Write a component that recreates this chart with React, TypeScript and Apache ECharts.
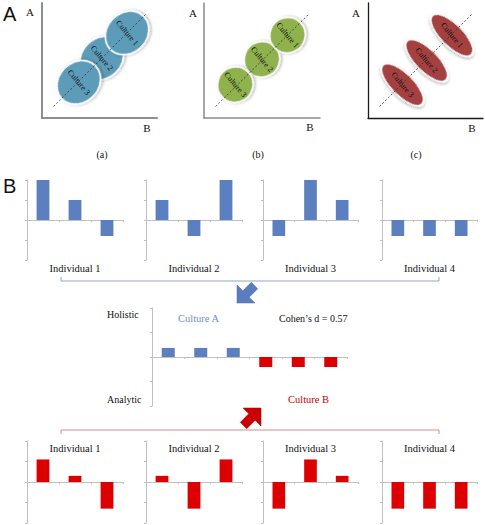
import React, { useEffect, useRef } from 'react';
import * as echarts from 'echarts';

// ---------- Part A data ----------
const cultureLabels = ['Culture 1', 'Culture 2', 'Culture 3'];
const panelAX = [7.4, 5.2, 3.2];
const panelAY = [7.4, 5.2, 3.1];
const panelBX = [7.2, 5.0, 2.7];
const panelBY = [7.2, 5.1, 2.9];
const panelCX = [7.3, 5.1, 3.0];
const panelCY = [7.2, 5.0, 2.9];
const diagonal = [[1, 1], [9, 9]];
const panelCaptions = ['(a)', '(b)', '(c)'];

// ---------- Part B data ----------
const itemCats = ['1', '2', '3'];
const individualNames = ['Individual 1', 'Individual 2', 'Individual 3', 'Individual 4'];
const cultureAInd1 = [2, 1, -0.8];
const cultureAInd2 = [1, -0.8, 2];
const cultureAInd3 = [-0.8, 2, 1];
const cultureAInd4 = [-0.8, -0.8, -0.8];
const cultureBInd1 = [1.1, 0.3, -1.3];
const cultureBInd2 = [0.3, -1.3, 1.1];
const cultureBInd3 = [-1.3, 1.1, 0.3];
const cultureBInd4 = [-1.3, -1.3, -1.3];
const meanCats = ['A1', 'A2', 'A3', 'B1', 'B2', 'B3'];
const meanValues = [0.37, 0.37, 0.37, -0.41, -0.41, -0.41];
const meanCulture = ['A', 'A', 'A', 'B', 'B', 'B'];
const yTicks = [-2, 2, 1]; // min, max, interval

const BLUE = '#5b7fbf';
const RED = '#dd0000';
const SERIF = 'Liberation Serif';
const SANS = 'Liberation Sans';
const AXIS_GRAY = '#c0c0c0';

export default function App() {
  const ref = useRef<HTMLDivElement>(null);

  useEffect(() => {
    if (!ref.current) return;
    const chart = echarts.init(ref.current, undefined, { renderer: 'svg' });

    const grids: any[] = [];
    const xAxes: any[] = [];
    const yAxes: any[] = [];
    const series: any[] = [];
    const graphics: any[] = [];

    // ---- Part A panels ----
    const aGrids = [
      { left: 42, top: 3, width: 115, height: 115 },
      { left: 204, top: 3, width: 116, height: 115 },
      { left: 368, top: 3, width: 115, height: 115 },
    ];
    const aAxisStyle = [
      { color: '#8e8e8e', width: 2 },
      { color: '#8a8a8a', width: 1.5 },
      { color: '#1a1a1a', width: 1.3 },
    ];
    const aX = [panelAX, panelBX, panelCX];
    const aY = [panelAY, panelBY, panelCY];
    const aColor = ['#5d9cb9', '#8fb24e', '#a4403f'];
    const aSize: any[] = [[47, 40], [36, 35], [56, 22]];
    const aRot = [45, 45, -45];
    const drawOrder = [1, 0, 2];

    aGrids.forEach((g, i) => {
      grids.push(g);
      xAxes.push({
        gridIndex: i, type: 'value', min: 0, max: 10,
        axisLine: { show: true, onZero: false, lineStyle: aAxisStyle[i] },
        axisTick: { show: false }, axisLabel: { show: false }, splitLine: { show: false },
      });
      yAxes.push({
        gridIndex: i, type: 'value', min: 0, max: 10,
        axisLine: { show: true, onZero: false, lineStyle: aAxisStyle[i] },
        axisTick: { show: false }, axisLabel: { show: false }, splitLine: { show: false },
      });
      series.push({
        type: 'scatter', xAxisIndex: i, yAxisIndex: i,
        symbol: 'circle', symbolSize: aSize[i], symbolRotate: aRot[i],
        data: drawOrder.map((k) => ({ name: cultureLabels[k], value: [aX[i][k], aY[i][k]] })),
        itemStyle: {
          color: aColor[i], borderColor: '#ffffff', borderWidth: 1.5, opacity: 1,
          shadowBlur: 3, shadowColor: 'rgba(0,0,0,0.35)', shadowOffsetX: 1, shadowOffsetY: 1,
        },
        label: {
          show: true, position: 'inside', formatter: '{b}', rotate: -50,
          fontSize: 8, fontFamily: SERIF, color: '#111',
        },
        z: 2,
      });
      series.push({
        type: 'line', xAxisIndex: i, yAxisIndex: i, data: diagonal, symbol: 'none',
        lineStyle: { type: [2, 2], color: '#333', width: 0.8 }, z: 3,
      });
    });

    // A-panel texts
    const aLetterPos = [[30, 12], [193, 13], [356, 13]];
    const bLetterPos = [[147, 128], [310, 127], [472, 128]];
    const capPos = [[102, 154], [258, 154], [416, 154]];
    for (let i = 0; i < 3; i++) {
      graphics.push({ type: 'text', x: aLetterPos[i][0], y: aLetterPos[i][1], style: { text: 'A', fontSize: 11, fontFamily: SERIF, fill: '#111', align: 'center', verticalAlign: 'middle' } });
      graphics.push({ type: 'text', x: bLetterPos[i][0], y: bLetterPos[i][1], style: { text: 'B', fontSize: 11, fontFamily: SERIF, fill: '#111', align: 'center', verticalAlign: 'middle' } });
      graphics.push({ type: 'text', x: capPos[i][0], y: capPos[i][1], style: { text: panelCaptions[i], fontSize: 10, fontFamily: SERIF, fill: '#111', align: 'center', verticalAlign: 'middle' } });
    }
    graphics.push({ type: 'text', x: 3, y: 14, style: { text: 'A', fontSize: 20, fontFamily: SANS, fill: '#111', verticalAlign: 'middle' } });
    graphics.push({ type: 'text', x: 3, y: 186, style: { text: 'B', fontSize: 20, fontFamily: SANS, fill: '#111', verticalAlign: 'middle' } });

    // ---- Part B bar panels ----
    const barLefts = [27, 146, 263, 382];
    const barWidths = [96, 96, 95, 95];
    const topData = [cultureAInd1, cultureAInd2, cultureAInd3, cultureAInd4];
    const botData = [cultureBInd1, cultureBInd2, cultureBInd3, cultureBInd4];

    const addBarGrid = (g: any, cats: string[], data: any[]) => {
      const idx = grids.length;
      grids.push(g);
      xAxes.push({
        gridIndex: idx, type: 'category', data: cats,
        axisLine: { show: true, onZero: true, lineStyle: { color: AXIS_GRAY, width: 1 } },
        axisTick: { show: true, length: 2, interval: 0, lineStyle: { color: AXIS_GRAY } },
        axisLabel: { show: false }, splitLine: { show: false },
      });
      yAxes.push({
        gridIndex: idx, type: 'value', min: yTicks[0], max: yTicks[1], interval: yTicks[2],
        axisLine: { show: true, lineStyle: { color: AXIS_GRAY, width: 1 } },
        axisTick: { show: true, length: 2, lineStyle: { color: AXIS_GRAY } },
        axisLabel: { show: false }, splitLine: { show: false },
      });
      series.push({
        type: 'bar', xAxisIndex: idx, yAxisIndex: idx, data, barWidth: '40%',
      });
    };

    for (let i = 0; i < 4; i++) {
      addBarGrid({ left: barLefts[i], top: 180, width: barWidths[i], height: 80 }, itemCats,
        topData[i].map((v) => ({ value: v, itemStyle: { color: BLUE } })));
      graphics.push({ type: 'text', x: barLefts[i] + barWidths[i] / 2, y: 268, style: { text: individualNames[i], fontSize: 10.5, fontFamily: SERIF, fill: '#111', align: 'center', verticalAlign: 'middle' } });
    }

    addBarGrid({ left: 152, top: 308, width: 195, height: 98 }, meanCats,
      meanValues.map((v, k) => ({ value: v, itemStyle: { color: meanCulture[k] === 'A' ? BLUE : RED } })));

    for (let i = 0; i < 4; i++) {
      addBarGrid({ left: barLefts[i], top: 441, width: barWidths[i], height: 82 }, itemCats,
        botData[i].map((v) => ({ value: v, itemStyle: { color: RED } })));
      graphics.push({ type: 'text', x: barLefts[i] + barWidths[i] / 2, y: 448, style: { text: individualNames[i], fontSize: 10.5, fontFamily: SERIF, fill: '#111', align: 'center', verticalAlign: 'middle' } });
    }

    // middle texts
    graphics.push({ type: 'text', x: 107, y: 314, style: { text: 'Holistic', fontSize: 10, fontFamily: SERIF, fill: '#111', verticalAlign: 'middle' } });
    graphics.push({ type: 'text', x: 107, y: 399, style: { text: 'Analytic', fontSize: 10, fontFamily: SERIF, fill: '#111', verticalAlign: 'middle' } });
    graphics.push({ type: 'text', x: 178, y: 318, style: { text: 'Culture A', fontSize: 10.5, fontFamily: SERIF, fill: '#6d8fc7', verticalAlign: 'middle' } });
    graphics.push({ type: 'text', x: 279, y: 318, style: { text: 'Cohen\u2019s d = 0.57', fontSize: 10, fontFamily: SERIF, fill: '#111', verticalAlign: 'middle' } });
    graphics.push({ type: 'text', x: 288, y: 399, style: { text: 'Culture B', fontSize: 10.5, fontFamily: SERIF, fill: '#cc0000', verticalAlign: 'middle' } });

    // brackets
    graphics.push({ type: 'polyline', shape: { points: [[61, 277], [61, 281], [439, 281], [439, 277]] }, style: { stroke: '#8fa6cb', lineWidth: 1, fill: null } });
    graphics.push({ type: 'polyline', shape: { points: [[61, 434], [61, 430], [439, 430], [439, 434]] }, style: { stroke: '#d98a8c', lineWidth: 1, fill: null } });

    // arrows
    graphics.push({
      type: 'polygon', z: 10,
      shape: { points: [[237, 303], [237, 285], [242.8, 290.8], [251.3, 282.3], [257.7, 288.7], [249.2, 297.2], [255, 303]] },
      style: { fill: '#5a7dbd', stroke: '#4d6fae', lineWidth: 0.5 },
    });
    graphics.push({
      type: 'polygon', z: 10,
      shape: { points: [[261, 408], [243, 408], [248.8, 413.8], [240.3, 422.3], [246.7, 428.7], [255.2, 420.2], [261, 426]] },
      style: { fill: '#cc0000', stroke: '#9e0000', lineWidth: 0.5 },
    });

    chart.setOption({
      animation: false,
      backgroundColor: '#ffffff',
      grid: grids,
      xAxis: xAxes,
      yAxis: yAxes,
      series,
      graphic: { elements: graphics },
    });

    return () => chart.dispose();
  }, []);

  return <div ref={ref} style={{ position: 'fixed', left: 0, top: 0, width: 485, height: 525 }} />;
}
